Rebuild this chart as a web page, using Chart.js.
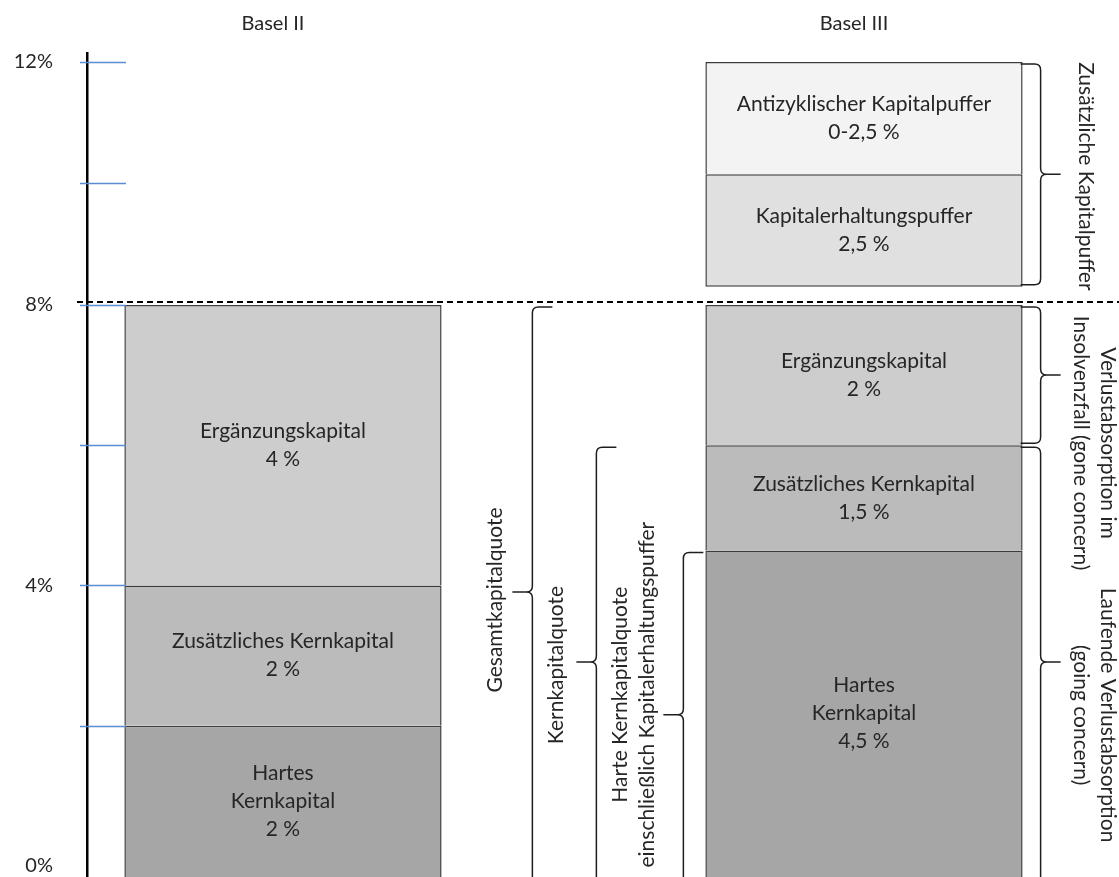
<!DOCTYPE html>
<html lang="de">
<head>
<meta charset="utf-8">
<title>Basel II / Basel III</title>
<script src="https://cdn.jsdelivr.net/npm/chart.js@4.4.1/dist/chart.umd.min.js"></script>
<style>
  html, body { margin: 0; padding: 0; background: #fff; }
  #wrap { position: relative; width: 1119px; height: 877px; }
</style>
</head>
<body>
<div id="wrap"><canvas id="kapital-chart"></canvas></div>
<script>
// Kategorien (liegen auf einer linearen x-Achse bei 1 und 2)
const categories = ['Basel II', 'Basel III'];
const categoryPos = [1, 2];

// Anteile in %
const hartesKernkapital = [2, 4.5];
const zusaetzlichesKernkapital = [2, 1.5];
const ergaenzungskapital = [4, 2];
// Puffer ueber der 8%-Linie (nur Basel III), so wie sie an der Achse stehen
const pufferAnfang = [null, 8.3];
const kapitalerhaltungspuffer = [null, 1.85];
const antizyklischerPuffer = [null, 1.85];

const yTicks = [0, 2, 4, 6, 8, 10, 12];
const yTickLabels = ['0%', '', '4%', '', '8%', '', '12%'];
const mindestquote = 8;

// Beschriftungen in den Balken
const textHartes = [['Hartes', 'Kernkapital', '2 %'], ['Hartes', 'Kernkapital', '4,5 %']];
const textZusaetzlich = [['Zusätzliches Kernkapital', '2 %'], ['Zusätzliches Kernkapital', '1,5 %']];
const textErgaenzung = [['Ergänzungskapital', '4 %'], ['Ergänzungskapital', '2 %']];
const textErhaltung = [null, ['Kapitalerhaltungspuffer', '2,5 %']];
const textAntizyklisch = [null, ['Antizyklischer Kapitalpuffer', '0-2,5 %']];

const boden = -1; // Balken laufen unten aus dem Bild heraus
const schrift = 'Lato, "Open Sans", sans-serif';
const textFarbe = '#262626';

// Kumulierte Kanten
var kante1 = hartesKernkapital.slice();
var kante2 = kante1.map((v, i) => v + zusaetzlichesKernkapital[i]);
var kante3 = kante2.map((v, i) => v + ergaenzungskapital[i]);
var kante4 = pufferAnfang.map((v, i) => v == null ? null : v + kapitalerhaltungspuffer[i]);
var kante5 = kante4.map((v, i) => v == null ? null : v + antizyklischerPuffer[i]);

function bereich(von, bis) {
  return categoryPos.map((x, i) => ({ x: x, y: (von[i] == null || bis[i] == null) ? null : [von[i], bis[i]] }));
}
var bodenArr = categoryPos.map(() => boden);

// y-Achse: oberhalb von 8% gestaucht, wie im Original
const knick = 8, stauchung = 0.866;
function yt(v) { return v <= knick ? v : knick + (v - knick) * stauchung; }
function yinv(t) { return t <= knick ? t : knick + (t - knick) / stauchung; }
class GestauchteAchse extends Chart.LinearScale {
  getPixelForValue(value) {
    if (value === null || value === undefined) return NaN;
    const a = yt(this.min), b = yt(this.max);
    return this.getPixelForDecimal((yt(value) - a) / (b - a));
  }
  getValueForPixel(pixel) {
    const a = yt(this.min), b = yt(this.max);
    return yinv(a + this.getDecimalForPixel(pixel) * (b - a));
  }
}
GestauchteAchse.id = 'gestaucht';
GestauchteAchse.defaults = Chart.LinearScale.defaults;
Chart.register(GestauchteAchse);

function linie(ctx, x1, y1, x2, y2) {
  ctx.beginPath(); ctx.moveTo(x1, y1); ctx.lineTo(x2, y2); ctx.stroke();
}

// blaue Teilstriche + gestrichelte 8%-Linie
const achsenDeko = {
  id: 'achsenDeko',
  afterDatasetsDraw(chart) {
    const {ctx, chartArea, scales: {y}} = chart;
    ctx.save();
    ctx.strokeStyle = '#5b8cd4';
    ctx.lineWidth = 1.5;
    y.ticks.forEach(t => {
      if (t.value === 0) return;
      const py = Math.round(y.getPixelForValue(t.value)) + 0.5;
      linie(ctx, chartArea.left - 7, py, chartArea.left + 39, py);
    });
    ctx.strokeStyle = '#000';
    ctx.lineWidth = 2;
    ctx.setLineDash([6, 4]);
    const py = y.getPixelForValue(mindestquote) - 3;
    linie(ctx, chartArea.left - 10, py, chart.width, py);
    ctx.restore();
  }
};

// Texte mittig in die sichtbaren Balkenstuecke
const balkenTexte = {
  id: 'balkenTexte',
  afterDatasetsDraw(chart) {
    const {ctx, chartArea} = chart;
    ctx.save();
    ctx.fillStyle = textFarbe;
    ctx.font = '21px ' + schrift;
    ctx.textAlign = 'center';
    ctx.textBaseline = 'middle';
    chart.data.datasets.forEach((ds, di) => {
      const meta = chart.getDatasetMeta(di);
      meta.data.forEach((el, i) => {
        const zeilen = ds.texte[i];
        if (!zeilen || el.skip) return;
        const oben = Math.max(Math.min(el.y, el.base), chartArea.top);
        const unten = Math.min(Math.max(el.y, el.base), chartArea.bottom);
        const mitte = (oben + unten) / 2;
        zeilen.forEach((z, k) => {
          ctx.fillText(z, el.x, mitte + (k - (zeilen.length - 1) / 2) * 28);
        });
      });
    });
    ctx.restore();
  }
};

// geschweifte Klammern mit gedrehten Texten (beziehen sich auf Basel III)
var klammern = [
  { seite: 'links', von: bodenArr[1], bis: kante3[1], abstand: 173, dx: -17, dy: 8, text: ['Gesamtkapitalquote'] },
  { seite: 'links', von: bodenArr[1], bis: kante2[1], abstand: 109, dx: -20, dy: 3, text: ['Kernkapitalquote'] },
  { seite: 'links', von: bodenArr[1], bis: kante1[1], abstand: 22, dx: -30, dy: -20, text: ['Harte Kernkapitalquote', 'einschließlich Kapitalerhaltungspuffer'] },
  { seite: 'rechts', von: pufferAnfang[1], bis: kante5[1], abstand: 18, dx: 25, dy: 2, text: ['Zusätzliche Kapitalpuffer'] },
  { seite: 'rechts', von: kante2[1], bis: kante3[1], abstand: 18, dx: 34, dy: 68, text: ['Verlustabsorption im', 'Insolvenzfall (gone concern)'] },
  { seite: 'rechts', von: bodenArr[1], bis: kante2[1], abstand: 18, dx: 34, dy: 53, text: ['Laufende Verlustabsorption', '(going concern)'] }
];

const klammerDeko = {
  id: 'klammerDeko',
  afterDatasetsDraw(chart) {
    const {ctx, chartArea, scales: {y}} = chart;
    const el = chart.getDatasetMeta(2).data[1];
    const links = el.x - el.width / 2, rechts = el.x + el.width / 2;
    const r = 6, hook = 20, spitze = 20;
    ctx.save();
    ctx.strokeStyle = '#1e1e1e';
    ctx.lineWidth = 1.5;
    klammern.forEach(k => {
      const y0 = y.getPixelForValue(k.bis) + 2;
      const y1 = y.getPixelForValue(k.von) - 2;
      const ym = (y0 + Math.min(y1, chartArea.bottom)) / 2;
      const s = k.seite === 'links' ? -1 : 1;   // Richtung der Spitze
      const xv = k.seite === 'links' ? links - k.abstand : rechts + k.abstand;
      ctx.beginPath();
      ctx.moveTo(xv - s * hook, y0);
      ctx.lineTo(xv - s * r, y0);
      ctx.quadraticCurveTo(xv, y0, xv, y0 + r);
      ctx.lineTo(xv, ym - r);
      ctx.quadraticCurveTo(xv, ym, xv + s * r, ym);
      ctx.lineTo(xv + s * spitze, ym);
      ctx.moveTo(xv + s * r, ym);
      ctx.quadraticCurveTo(xv, ym, xv, ym + r);
      ctx.lineTo(xv, y1 - r);
      ctx.quadraticCurveTo(xv, y1, xv - s * r, y1);
      ctx.lineTo(xv - s * hook, y1);
      ctx.stroke();

      ctx.save();
      ctx.translate(xv + s * spitze + k.dx, ym + k.dy);
      ctx.rotate(s * Math.PI / 2);
      ctx.fillStyle = textFarbe;
      ctx.font = '21px ' + schrift;
      ctx.textAlign = 'center';
      ctx.textBaseline = 'middle';
      k.text.forEach((z, i) => ctx.fillText(z, 0, (i - (k.text.length - 1) / 2) * 27));
      ctx.restore();
    });
    ctx.restore();
  }
};

function balken(name, daten, farbe, texte, skipped) {
  return {
    label: name,
    data: daten,
    texte: texte,
    backgroundColor: farbe,
    borderColor: '#3c3c3c',
    borderWidth: 1.5,
    borderSkipped: skipped,
    grouped: false,
    barPercentage: 0.546,
    categoryPercentage: 1,
    clip: 0
  };
}

var config = {
  type: 'bar',
  data: {
    datasets: [
      balken('Hartes Kernkapital', bereich(bodenArr, kante1), '#a6a6a6', textHartes, 'bottom'),
      balken('Zusätzliches Kernkapital', bereich(kante1, kante2), '#bbbbbb', textZusaetzlich, 'bottom'),
      balken('Ergänzungskapital', bereich(kante2, kante3), '#cdcdcd', textErgaenzung, 'bottom'),
      balken('Kapitalerhaltungspuffer', bereich(pufferAnfang, kante4), '#e0e0e0', textErhaltung, false),
      balken('Antizyklischer Kapitalpuffer', bereich(kante4, kante5), '#f3f3f3', textAntizyklisch, 'bottom')
    ]
  },
  options: {
    responsive: true,
    maintainAspectRatio: false,
    animation: false,
    events: [],
    layout: { padding: 0, autoPadding: false },
    plugins: { legend: { display: false }, tooltip: { enabled: false }, title: { display: false } },
    scales: {
      x: {
        type: 'linear',
        position: 'top',
        offset: false,
        min: 0.6627,
        max: 2.4389,
        bounds: 'data',
        afterBuildTicks: s => { s.ticks = categoryPos.map(v => ({ value: v })); },
        afterFit: s => { s.height = 53; s.paddingLeft = 0; s.paddingRight = 0; },
        grid: { display: false, drawTicks: false },
        border: { display: false },
        ticks: {
          autoSkip: false, maxRotation: 0, padding: 17, labelOffset: -10,
          color: textFarbe, font: { family: schrift, size: 20 },
          callback: v => categories[categoryPos.indexOf(v)]
        }
      },
      y: {
        type: 'gestaucht',
        min: -0.157,
        max: 12.148,
        bounds: 'data',
        afterBuildTicks: s => { s.ticks = yTicks.map(v => ({ value: v })); },
        afterFit: s => { s.width = 87; s.paddingTop = 0; s.paddingBottom = 0; },
        grid: { display: false, drawTicks: false },
        border: { display: true, color: '#000', width: 2.5 },
        ticks: {
          autoSkip: false, padding: 34,
          color: textFarbe, font: { family: schrift, size: 20 },
          callback: v => yTickLabels[yTicks.indexOf(v)]
        }
      }
    }
  },
  plugins: [achsenDeko, balkenTexte, klammerDeko]
};

var ctx = document.getElementById('kapital-chart').getContext('2d');
window.kapitalChart = new Chart(ctx, config);
</script>
</body>
</html>
